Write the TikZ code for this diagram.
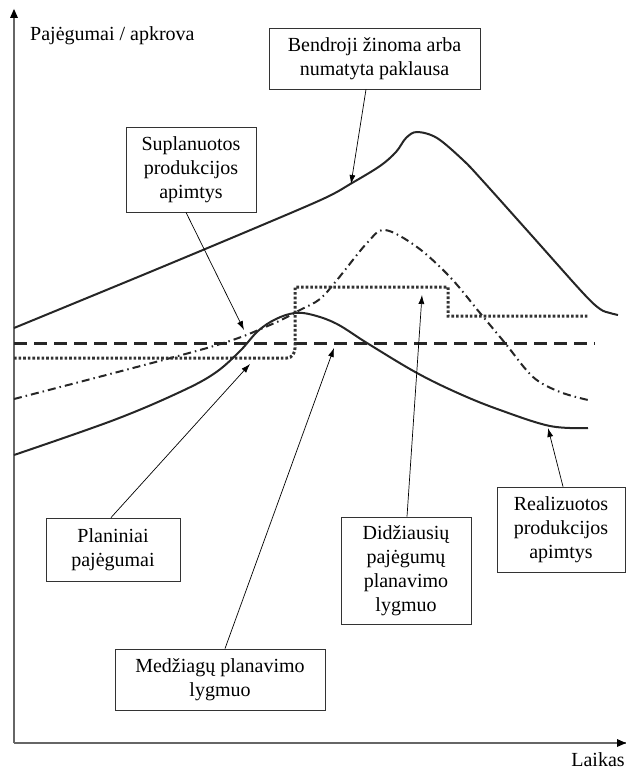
\documentclass[tikz,border=0pt]{standalone}
\usepackage{fontspec}
\setmainfont{Liberation Serif}
\usetikzlibrary{arrows.meta}
\begin{document}
\begin{tikzpicture}[x=1pt,y=-1pt,
  lbl/.style={draw=black!80,line width=0.8pt,align=center,inner sep=0pt,font=\fontsize{20}{24}\selectfont},
  txt/.style={inner sep=0pt,font=\fontsize{20}{24}\selectfont},
  ptr/.style={line width=0.7pt,-{Latex[length=9pt,width=6pt]}},
  axis/.style={draw=black!60,line width=1.3pt},
  curve/.style={line width=2pt,black!85},
  dashline/.style={line width=3pt,black!85,dash pattern=on 13pt off 7pt},
  dotline/.style={line width=3pt,black!80,dash pattern=on 2.6pt off 2pt},
  dashdot/.style={line width=2pt,black!85,dash pattern=on 8pt off 4pt on 1.5pt off 4pt}]
\useasboundingbox (0,0) rectangle (626,776);
% axes
\coordinate (O) at (14,743);
\coordinate (Ytop) at (14,13);
\coordinate (Xend) at (626,743);
\draw[axis] (O) -- (Ytop);
\draw[axis] (O) -- (Xend);
\fill (14,9) -- (10,18) -- (18,18) -- cycle;
\fill (626,743) -- (617,739) -- (617,747) -- cycle;
\node[txt,anchor=west] (ylab) at (30,36) {Pajėgumai / apkrova};
\node[txt] (xlab) at (598,760) {Laikas};
% curves
\draw[curve] plot[smooth,tension=0.55] coordinates {(14,328) (150,272) (260,226) (325,198) (352,183) (380,166) (396,152) (406,138) (417,132) (437,138) (463,160) (482,180) (533,237) (583,293) (600,309) (610,313) (618,315)};
\draw[dashdot] plot[smooth,tension=0.55] coordinates {(14,399) (207,348) (270,325) (300,310) (320,299) (337,280) (367,243) (385,230) (417,247) (450,277) (480,313) (505,343) (533,377) (560,392) (588,400)};
\draw[dashline] (14,343) -- (595,343);
\draw[dotline] (14,358) -- (287,358) to[out=0,in=-90] (295,348) -- (295,287) -- (448,287) -- (448,316) -- (589,316);
\draw[curve] plot[smooth,tension=0.6] coordinates {(14,455) (114,420) (180,392) (215,373) (240,351) (258,331) (276,319) (295,313) (313,315) (337,324) (367,343) (417,373) (460,394) (500,410) (550,426) (588,428)};
% label boxes
\node[lbl,minimum width=211pt,minimum height=61pt] (bend) at (374.5,58.5) {Bendroji žinoma arba\\numatyta paklausa};
\node[lbl,minimum width=130pt,minimum height=85pt] (supl) at (191,169.5) {Suplanuotos\\produkcijos\\apimtys};
\node[lbl,minimum width=134pt,minimum height=63pt] (plan) at (113,549.5) {Planiniai\\pajėgumai};
\node[lbl,minimum width=210pt,minimum height=61pt] (medz) at (220,679.5) {Medžiagų planavimo\\lygmuo};
\node[lbl,minimum width=130pt,minimum height=107pt] (didz) at (406,570.5) {Didžiausių\\pajėgumų\\planavimo\\lygmuo};
\node[lbl,minimum width=128pt,minimum height=85pt] (real) at (561,529.5) {Realizuotos\\produkcijos\\apimtys};
% pointer anchors
\coordinate (xB) at (366,0);
\coordinate (xS) at (186,0);
\coordinate (xP) at (111,0);
\coordinate (xM) at (225,0);
\coordinate (xD) at (407,0);
\coordinate (xR) at (563,0);
\coordinate (tB) at (351,184);
\coordinate (tS) at (244,330);
\coordinate (tP) at (250,364);
\coordinate (tM) at (334,348);
\coordinate (tD) at (422,295);
\coordinate (tR) at (548,428);
\draw[ptr] (bend.south -| xB) -- (tB);
\draw[ptr] (supl.south -| xS) -- (tS);
\draw[ptr] (plan.north -| xP) -- (tP);
\draw[ptr] (medz.north -| xM) -- (tM);
\draw[ptr] (didz.north -| xD) -- (tD);
\draw[ptr] (real.north -| xR) -- (tR);
\end{tikzpicture}
\end{document}
